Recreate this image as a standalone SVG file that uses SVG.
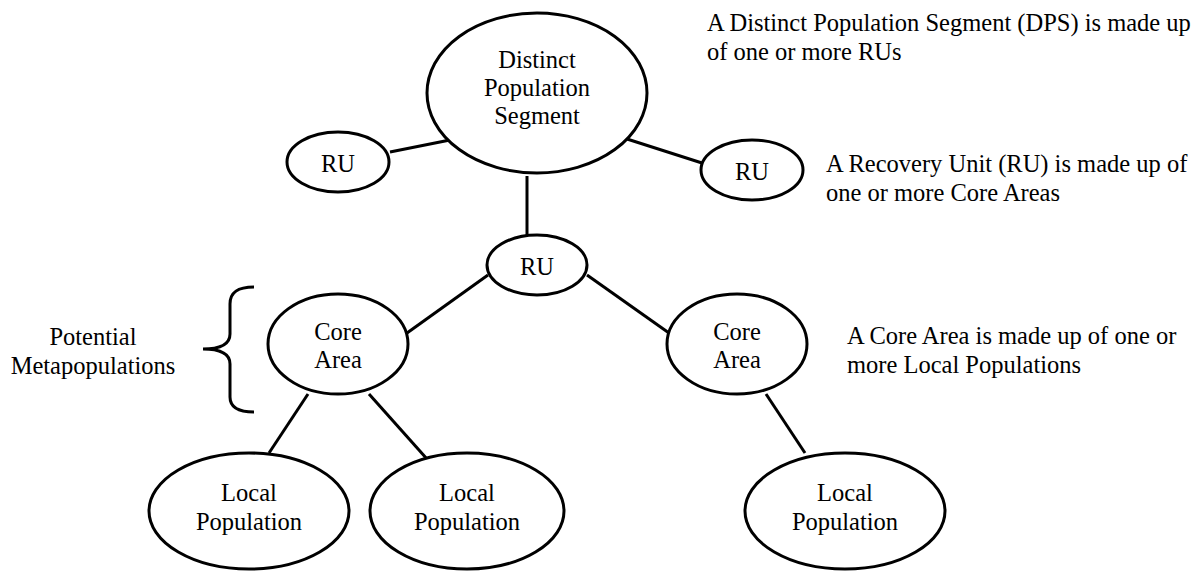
<svg xmlns="http://www.w3.org/2000/svg" width="1198" height="571" viewBox="0 0 1198 571">
<style>
  .node ellipse { fill: #ffffff; stroke: #000000; stroke-width: 3; }
  .node text, .label { font-family: "Liberation Serif", "Times New Roman", serif; font-size: 24.5px; fill: #000000; }
  .node text { text-anchor: middle; }
  .conn line, .conn path { stroke: #000000; stroke-width: 3; fill: none; }
</style>
<rect width="1198" height="571" fill="#ffffff"/>
<g id="connectors" class="conn">
  <line x1="390" y1="152" x2="450" y2="140"/>
  <line x1="627" y1="139" x2="702" y2="163"/>
  <line x1="527" y1="176" x2="527" y2="236"/>
  <line x1="488" y1="275" x2="407" y2="333"/>
  <line x1="587" y1="275" x2="669" y2="333"/>
  <line x1="308" y1="394" x2="269" y2="453"/>
  <line x1="369" y1="394" x2="427" y2="459"/>
  <line x1="766" y1="394" x2="805" y2="453"/>
</g>
<g id="brace" class="conn">
  <path d="M254,287 C238,287 230,292 230,304 L230,334 C230,344 220,349 203,349 C220,349 230,354 230,364 L230,397 C230,407 238,412 254,412"/>
</g>
<g id="dps" class="node">
  <ellipse cx="537" cy="93" rx="110" ry="80"/>
  <text x="537" y="68">Distinct</text>
  <text x="537" y="96">Population</text>
  <text x="537" y="124">Segment</text>
</g>
<g id="ru-left" class="node">
  <ellipse cx="338" cy="162" rx="51" ry="30"/>
  <text x="338" y="172">RU</text>
</g>
<g id="ru-right" class="node">
  <ellipse cx="752" cy="170" rx="51" ry="30"/>
  <text x="752" y="180">RU</text>
</g>
<g id="ru-middle" class="node">
  <ellipse cx="537" cy="265" rx="50" ry="30"/>
  <text x="537" y="275">RU</text>
</g>
<g id="core-left" class="node">
  <ellipse cx="338" cy="344" rx="70" ry="50"/>
  <text x="338" y="340">Core</text>
  <text x="338" y="368">Area</text>
</g>
<g id="core-right" class="node">
  <ellipse cx="737" cy="344" rx="70" ry="50"/>
  <text x="737" y="340">Core</text>
  <text x="737" y="368">Area</text>
</g>
<g id="local-1" class="node">
  <ellipse cx="249" cy="511" rx="100" ry="58"/>
  <text x="249" y="501">Local</text>
  <text x="249" y="530">Population</text>
</g>
<g id="local-2" class="node">
  <ellipse cx="467" cy="511" rx="97" ry="58"/>
  <text x="467" y="501">Local</text>
  <text x="467" y="530">Population</text>
</g>
<g id="local-3" class="node">
  <ellipse cx="845" cy="511" rx="100" ry="58"/>
  <text x="845" y="501">Local</text>
  <text x="845" y="530">Population</text>
</g>
<g id="annotations">
  <text class="label" x="707" y="31">A Distinct Population Segment (DPS) is made up</text>
  <text class="label" x="707" y="60">of one or more RUs</text>
  <text class="label" x="826" y="172">A Recovery Unit (RU) is made up of</text>
  <text class="label" x="826" y="201">one or more Core Areas</text>
  <text class="label" x="847" y="344">A Core Area is made up of one or</text>
  <text class="label" x="847" y="373">more Local Populations</text>
  <text class="label" x="93" y="345" text-anchor="middle">Potential</text>
  <text class="label" x="93" y="374" text-anchor="middle">Metapopulations</text>
</g>
</svg>
